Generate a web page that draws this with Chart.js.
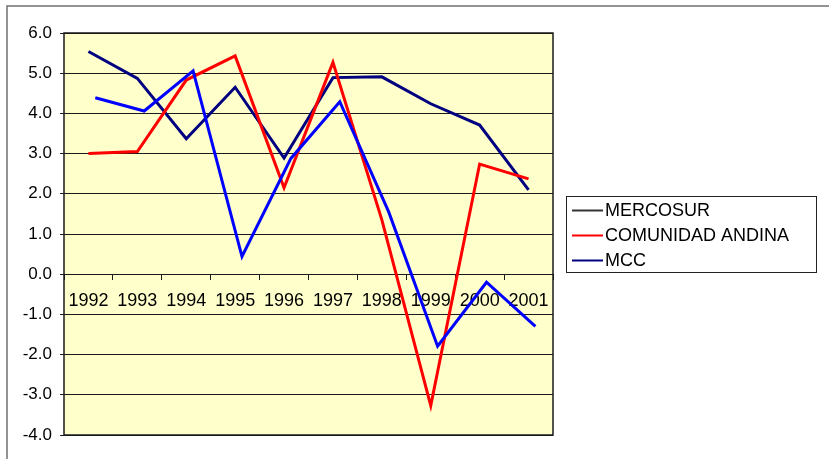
<!DOCTYPE html>
<html>
<head>
<meta charset="utf-8">
<script src="https://cdn.jsdelivr.net/npm/chart.js@4.4.1/dist/chart.umd.min.js"></script>
<style>
  html, body { margin: 0; padding: 0; background: #fff; }
  #wrap { width: 829px; height: 459px; position: relative; }
</style>
</head>
<body>
<div id="wrap"><canvas id="grafico" width="829" height="459"></canvas></div>
<script>
// Datos
const years = ["1992", "1993", "1994", "1995", "1996", "1997", "1998", "1999", "2000", "2001"];
const seriesNames = ["MERCOSUR", "COMUNIDAD ANDINA", "MCC"];
const mercosur = [5.54, 4.87, 3.37, 4.65, 2.89, 4.89, 4.91, 4.24, 3.71, 2.10];
const comunidadAndina = [3.00, 3.05, 4.83, 5.43, 2.15, 5.27, 1.35, -3.27, 2.74, 2.37];
const mcc = [4.39, 4.06, 5.06, 0.44, 2.88, 4.29, 1.55, -1.79, -0.20, -1.30];
const yMin = -4, yMax = 6, yStep = 1;

const lineColors = ["#000080", "#FF0000", "#0000FF"];
const legendColors = ["#333333", "#FF0000", "#000080"];
const FONT = "Liberation Sans, Arial, sans-serif";

// ===========================
// Fondo, marcos y leyenda
// ===========================
const decoPlugin = {
    id: "deco",
    beforeDraw(chart) {
        const { ctx, chartArea: a } = chart;
        ctx.save();
        ctx.fillStyle = "#FFFFCC";
        ctx.fillRect(a.left, a.top, a.right - a.left, a.bottom - a.top);
        ctx.restore();
    },
    afterDraw(chart) {
        const { ctx, chartArea: a } = chart;
        ctx.save();
        // marco del área de trazado
        ctx.strokeStyle = "#1a1a1a";
        ctx.lineWidth = 1.5;
        ctx.strokeRect(a.left, a.top, a.right - a.left, a.bottom - a.top);
        // marco exterior (solo arriba e izquierda visibles)
        ctx.strokeStyle = "#707070";
        ctx.lineWidth = 1.5;
        ctx.beginPath();
        ctx.moveTo(7, 470);
        ctx.lineTo(7, 6);
        ctx.lineTo(840, 6);
        ctx.stroke();

        // leyenda
        const lx = 566, ly = 196, lw = 250, lh = 76;
        ctx.fillStyle = "#fff";
        ctx.fillRect(lx, ly, lw, lh);
        ctx.strokeStyle = "#222";
        ctx.lineWidth = 1;
        ctx.strokeRect(lx + 0.5, ly + 0.5, lw, lh);
        ctx.font = "18px " + FONT;
        ctx.textBaseline = "middle";
        chart.data.datasets.forEach((ds, i) => {
            const y = 210.5 + i * 25;
            ctx.strokeStyle = legendColors[i];
            ctx.lineWidth = 2;
            ctx.beginPath();
            ctx.moveTo(572, y);
            ctx.lineTo(603, y);
            ctx.stroke();
            ctx.fillStyle = "#000";
            ctx.fillText(ds.label, 605, y + 1);
        });
        ctx.restore();
    }
};

const ctx = document.getElementById("grafico").getContext("2d");

new Chart(ctx, {
    type: "line",
    data: {
        labels: years,
        datasets: [
            {
                label: seriesNames[0],
                data: mercosur,
                borderColor: lineColors[0],
                order: 3
            },
            {
                label: seriesNames[1],
                data: comunidadAndina,
                borderColor: lineColors[1],
                order: 2
            },
            {
                label: seriesNames[2],
                data: mcc.map((v, i) => ({ x: i, y: v })),
                borderColor: lineColors[2],
                xAxisID: "xMcc",
                order: 1
            }
        ]
    },
    options: {
        responsive: false,
        animation: false,
        devicePixelRatio: 1,
        layout: { padding: { left: 0, top: 33, right: 276, bottom: 24 } },
        elements: {
            line: { borderWidth: 3, tension: 0, borderCapStyle: "butt", borderJoinStyle: "miter" },
            point: { radius: 0 }
        },
        plugins: {
            legend: { display: false },
            tooltip: { enabled: false }
        },
        scales: {
            x: {
                type: "category",
                position: { y: 0 },
                offset: true,
                grid: {
                    offset: true,
                    drawOnChartArea: false,
                    drawTicks: true,
                    tickLength: 5,
                    color: "#1a1a1a"
                },
                border: { display: true, color: "#1a1a1a", width: 1 },
                ticks: {
                    color: "#000",
                    font: { family: FONT, size: 18 },
                    padding: 11,
                    maxRotation: 0,
                    autoSkip: false
                }
            },
            // eje oculto: la serie MCC aparece algo desplazada a la derecha en el original
            xMcc: {
                type: "linear",
                display: false,
                min: -0.5 - 0.14,
                max: years.length - 0.5 - 0.14
            },
            y: {
                min: yMin,
                max: yMax,
                afterFit(scale) { scale.width = 64; },
                grid: {
                    color: "#1a1a1a",
                    lineWidth: 1,
                    tickLength: 4
                },
                border: { display: false },
                ticks: {
                    stepSize: yStep,
                    color: "#000",
                    font: { family: FONT, size: 17 },
                    padding: 8,
                    callback: v => v.toFixed(1)
                }
            }
        }
    },
    plugins: [decoPlugin]
});
</script>
</body>
</html>
